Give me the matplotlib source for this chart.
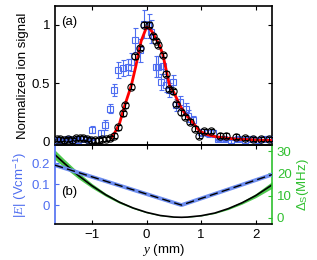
import matplotlib
matplotlib.use("Agg")
import matplotlib.pyplot as plt
import numpy as np

plt.rcParams['font.family'] = ['Liberation Sans', 'DejaVu Sans']
plt.rcParams['mathtext.fontset'] = 'custom'
plt.rcParams['mathtext.it'] = 'Liberation Serif:italic'
plt.rcParams['mathtext.rm'] = 'Liberation Sans'

# ---- panel (a): black circles ----
circ_x = [-1.65, -1.58, -1.51, -1.44, -1.37, -1.30, -1.23, -1.16, -1.09, -1.02,
          -0.95, -0.88, -0.81, -0.74, -0.67, -0.59, -0.53, -0.43, -0.39, -0.28,
          -0.21, -0.13, -0.05, 0.04, 0.12, 0.18, 0.21, 0.30, 0.35, 0.42, 0.48,
          0.54, 0.64, 0.70, 0.79, 0.88, 0.97, 1.06, 1.19, 1.34, 1.46, 1.64,
          1.80, 1.95, 2.10, 2.25]
circ_y = [0.02, 0.02, 0.01, 0.02, 0.01, 0.03, 0.03, 0.03, 0.02, 0.01,
          0.01, 0.01, 0.02, 0.02, 0.03, 0.05, 0.12, 0.24, 0.31, 0.47,
          0.73, 0.80, 1.00, 1.00, 0.90, 0.86, 0.83, 0.74, 0.58, 0.45, 0.43,
          0.32, 0.25, 0.21, 0.17, 0.11, 0.05, 0.09, 0.09, 0.05, 0.05, 0.04,
          0.03, 0.02, 0.02, 0.02]
circ_err = [0.02] * len(circ_x)

# ---- panel (a): blue squares ----
sq_x = [-1.65, -1.55, -1.45, -1.35, -1.25, -1.15, -1.05, -1.00, -0.83, -0.76,
        -0.68, -0.60, -0.53, -0.43, -0.35, -0.28, -0.21, -0.13, -0.05, 0.04,
        0.08, 0.18, 0.21, 0.27, 0.30, 0.36, 0.42, 0.48, 0.54, 0.61, 0.73,
        0.76, 0.85, 1.00, 1.13, 1.22, 1.31, 1.42, 1.55, 1.68, 1.80, 1.92,
        2.05, 2.15, 2.25]
sq_y = [0.01, 0.01, 0.02, 0.01, 0.01, 0.02, 0.01, 0.10, 0.07, 0.14,
        0.28, 0.44, 0.61, 0.63, 0.64, 0.68, 0.87, 0.78, 1.01, 0.99,
        0.94, 0.64, 0.64, 0.51, 0.65, 0.48, 0.44, 0.51, 0.31, 0.34, 0.28,
        0.22, 0.18, 0.08, 0.07, 0.07, 0.02, 0.02, 0.01, 0.02, 0.01, 0.02,
        0.01, 0.02, 0.02]
sq_err = [0.02, 0.02, 0.02, 0.02, 0.02, 0.02, 0.02, 0.03, 0.03, 0.04,
          0.04, 0.05, 0.07, 0.07, 0.07, 0.08, 0.10, 0.10, 0.12, 0.10,
          0.10, 0.09, 0.09, 0.07, 0.07, 0.06, 0.06, 0.06, 0.05, 0.05, 0.05,
          0.05, 0.04, 0.03, 0.03, 0.03, 0.02, 0.02, 0.02, 0.02, 0.02, 0.02,
          0.02, 0.02, 0.02]

# ---- panel (a): red fit ----
fit_x = [-0.65, -0.59, -0.50, -0.40, -0.28, -0.20, -0.10, 0.00, 0.05, 0.10,
         0.24, 0.30, 0.42, 0.50, 0.61, 0.70, 0.85, 0.97, 1.10, 1.28, 1.45,
         1.65, 1.90, 2.10, 2.30]
fit_y = [0.03, 0.07, 0.15, 0.31, 0.48, 0.64, 0.86, 0.98, 0.97, 0.94,
         0.82, 0.74, 0.48, 0.42, 0.31, 0.24, 0.16, 0.09, 0.06, 0.04, 0.03,
         0.02, 0.015, 0.01, 0.01]

# blue baseline line
bl_x_left = [-1.68, -0.95]
bl_y_left = [0.012, 0.012]
bl_x_right = [1.30, 2.30]
bl_y_right = [0.012, 0.012]

# ---- panel (b): electric field |E| ----
E_x = [-1.68, 0.64, 2.30]
E_val = [0.19, 0.0, 0.145]

# ---- panel (b): Stark shift ----
S_x = [-1.68, -1.5, -1.25, -1.0, -0.75, -0.5, -0.25, 0.0, 0.25, 0.5, 0.64,
       0.75, 1.0, 1.25, 1.5, 1.75, 2.0, 2.3]
S_val = [28.3, 24.3, 19.0, 14.4, 10.4, 7.1, 4.5, 2.5, 1.1, 0.4, 0.3,
         0.4, 1.0, 2.2, 4.2, 6.8, 10.0, 14.8]
S_lo = [26.2, 22.5, 17.6, 13.4, 9.7, 6.6, 4.2, 2.3, 1.0, 0.3, 0.2,
        0.3, 0.9, 2.0, 3.8, 6.2, 9.1, 13.3]
S_hi = [30.4, 26.1, 20.4, 15.4, 11.1, 7.6, 4.8, 2.7, 1.2, 0.5, 0.4,
        0.5, 1.1, 2.4, 4.6, 7.4, 10.9, 16.3]

xticks = [-1, 0, 1, 2]

blue = '#4f6ef0'
lblue = '#6f8ff2'
green = '#2fc02f'

fig = plt.figure(figsize=(3.17, 2.60), dpi=100)
axa = fig.add_axes([55/317, 1-145/260, 217/317, 139/260])
axb = fig.add_axes([55/317, 1-224/260, 217/317, 79/260], sharex=axa)

fs = 9.5

axa.plot(bl_x_left, bl_y_left, color=blue, lw=1.5, zorder=2)
axa.plot(bl_x_right, bl_y_right, color=blue, lw=1.5, zorder=2)
axa.errorbar(sq_x, sq_y, yerr=sq_err, fmt='s', mfc='none', mec=blue, ecolor=blue,
             ms=5.0, mew=0.8, elinewidth=0.8, capsize=1.8, capthick=0.8, zorder=3)
axa.plot(fit_x, fit_y, color='red', lw=2.0, zorder=4)
axa.errorbar(circ_x, circ_y, yerr=circ_err, fmt='o', mfc='none', mec='black', ecolor='black',
             ms=5.2, mew=0.8, elinewidth=0.8, capsize=1.8, capthick=0.8, zorder=5)

axa.set_xlim(-1.68, 2.30)
axa.set_ylim(-0.03, 1.16)
axa.set_yticks([0, 0.5, 1])
axa.set_yticklabels(['0', '0.5', '1'])
axa.set_xticks(xticks)
axa.tick_params(axis='x', labelbottom=False)
axa.tick_params(direction='in', top=True, right=True, length=3, width=0.8, labelsize=fs)
axa.set_ylabel('Normalized ion signal', fontsize=fs, labelpad=2)
axa.text(0.03, 0.885, '(a)', transform=axa.transAxes, fontsize=fs, va='center', ha='left')
for s in axa.spines.values():
    s.set_linewidth(1.2)

# panel (b)
axb.plot(E_x, E_val, color=lblue, lw=2.8, zorder=2)
axb.plot(E_x, E_val, color='black', lw=1.0, ls=(0, (6, 3)), zorder=3)
axb.set_ylim(-0.09, 0.286)
axb.set_yticks([0, 0.1, 0.2])
axb.set_yticklabels(['0', '0.1', '0.2'])
axb.set_xticks(xticks)
axb.set_xticklabels(['\u22121', '0', '1', '2'])
axb.tick_params(direction='in', length=3, width=0.8, labelsize=fs)
axb.tick_params(axis='y', colors=blue)
axb.tick_params(axis='x', top=True)
axb.set_ylabel(r'$|E|$ (Vcm$^{-1}$)', color=blue, fontsize=fs, labelpad=2)
axb.set_xlabel(r'$y$ (mm)', fontsize=fs, labelpad=1)
axb.text(0.03, 0.40, '(b)', transform=axb.transAxes, fontsize=fs, va='center', ha='left')
axb.spines['left'].set_color(blue)
axb.spines['right'].set_visible(False)
for s in axb.spines.values():
    s.set_linewidth(1.2)

axr = axb.twinx()
axr.fill_between(S_x, S_lo, S_hi, color=green, alpha=0.85, lw=0, zorder=1)
axr.plot(S_x, S_val, color='black', lw=1.2, zorder=2)
axr.set_ylim(-2.7, 32.7)
axr.set_yticks([0, 10, 20, 30])
axr.tick_params(direction='in', length=3, width=0.8, labelsize=fs, colors=green)
axr.set_ylabel(r'$\Delta_{\rm S}$(MHz)', color=green, fontsize=fs, labelpad=2)
axr.spines['right'].set_color(green)
axr.spines['right'].set_linewidth(1.2)
axr.spines['left'].set_visible(False)
axr.spines['top'].set_visible(False)
axr.spines['bottom'].set_visible(False)
axb.set_zorder(axr.get_zorder() + 1)
axb.patch.set_visible(False)

fig.savefig('out.png', dpi=100)
